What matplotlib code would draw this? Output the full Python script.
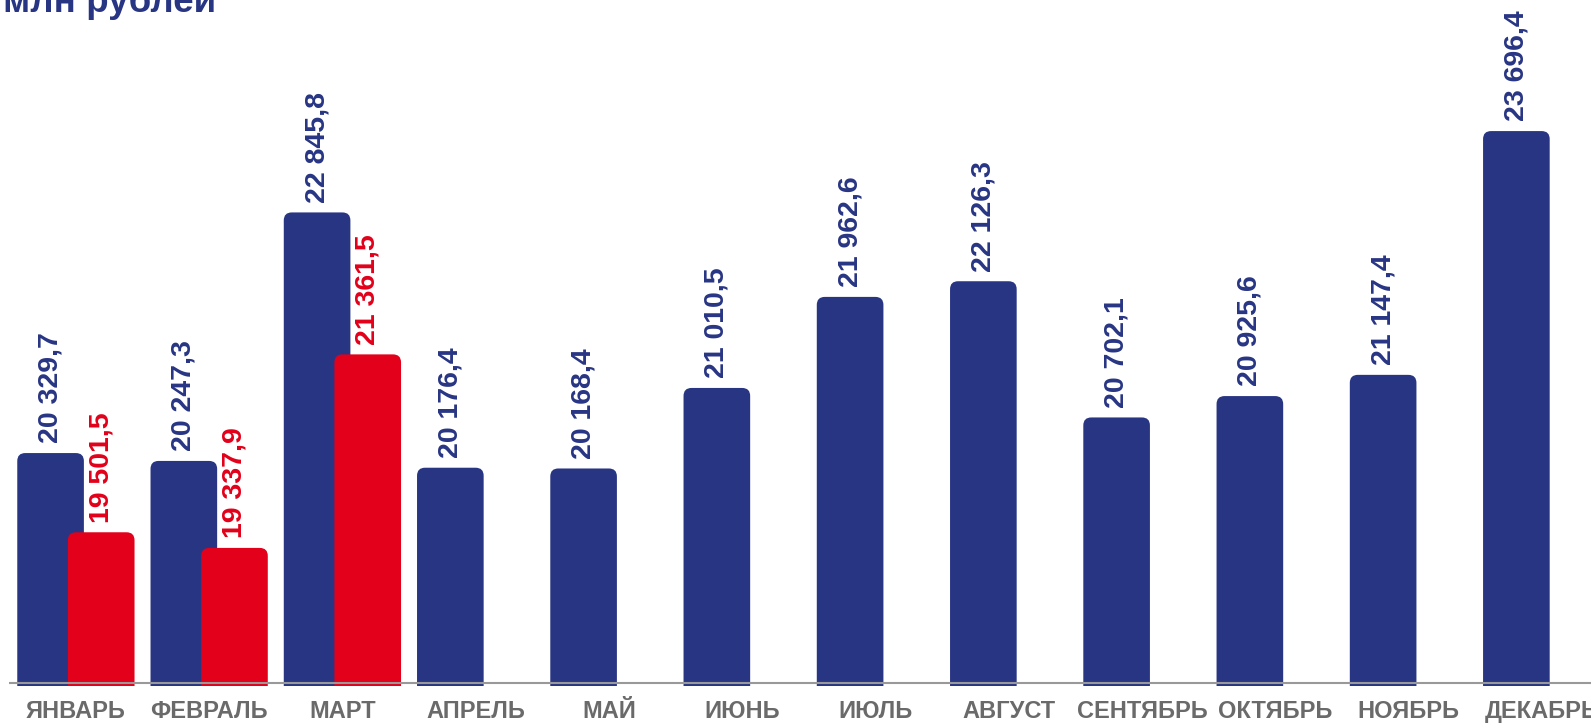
import matplotlib
matplotlib.use('Agg')
import matplotlib.pyplot as plt
from matplotlib.patches import FancyBboxPatch
from matplotlib.patches import BoxStyle
import numpy as np

plt.rcParams['font.family'] = ['Liberation Sans', 'DejaVu Sans']

months = ['ЯНВАРЬ', 'ФЕВРАЛЬ', 'МАРТ', 'АПРЕЛЬ', 'МАЙ', 'ИЮНЬ', 'ИЮЛЬ',
          'АВГУСТ', 'СЕНТЯБРЬ', 'ОКТЯБРЬ', 'НОЯБРЬ', 'ДЕКАБРЬ']
prev_year = [20329.7, 20247.3, 22845.8, 20176.4, 20168.4, 21010.5, 21962.6,
             22126.3, 20702.1, 20925.6, 21147.4, 23696.4]
curr_year = [19501.5, 19337.9, 21361.5]

blue = '#283583'
red = '#E2001A'
grey_txt = '#6a6a6a'

fig = plt.figure(figsize=(15.91, 7.24), dpi=100)
ax = fig.add_axes([9 / 1591, 38 / 724, 1 - 9 / 1591, 1 - 38 / 724])

y_bottom = 17894
y_top = 25067
ax.set_xlim(-0.502, 11.37)
ax.set_ylim(y_bottom, y_top)

x = np.arange(len(months))
width = 0.5
off = 0.19

# px -> data units, used for the rounded tops
px_x = (11.37 + 0.502) / 1582
px_y = (y_top - y_bottom) / 686
aspect = px_y / px_x


def round_bars(bars, color, z):
    for b in bars:
        x0, w, h = b.get_x(), b.get_width(), b.get_height()
        b.remove()
        p = FancyBboxPatch((x0, 0), w, h,
                           boxstyle=BoxStyle('Round', pad=0, rounding_size=8 * px_x),
                           mutation_aspect=aspect, facecolor=color,
                           edgecolor='none', zorder=z)
        ax.add_patch(p)


def fmt(v):
    s = f'{v:,.1f}'
    return s.replace(',', ' ').replace('.', ',')


b1 = ax.bar(x - off, prev_year, width=width, color=blue)
b2 = ax.bar(x[:len(curr_year)] + off, curr_year, width=width, color=red)
round_bars(b1, blue, 2)
round_bars(b2, red, 3)

for xi, v in zip(x - off, prev_year):
    ax.annotate(fmt(v), (xi, v), xytext=(0, 7), textcoords='offset points',
                rotation=90, ha='center', va='bottom', fontsize=20.5,
                fontweight='bold', color=blue)
for xi, v in zip(x[:len(curr_year)] + off, curr_year):
    ax.annotate(fmt(v), (xi, v), xytext=(0, 7), textcoords='offset points',
                rotation=90, ha='center', va='bottom', fontsize=20.5,
                fontweight='bold', color=red)

ax.axhline(y_bottom + 3 * px_y, color='#999999', linewidth=1.5, zorder=4)

ax.set_xticks(x)
ax.set_xticklabels(months, fontsize=17, fontweight='bold', color=grey_txt)
ax.tick_params(axis='x', length=0, pad=10)
ax.set_yticks([])
for s in ax.spines.values():
    s.set_visible(False)

fig.text(3 / 1591, 1 - 12 / 724, 'млн рублей', fontsize=26.5, fontweight='bold',
         color=blue, ha='left', va='baseline')

fig.savefig('out.png', dpi=100)
